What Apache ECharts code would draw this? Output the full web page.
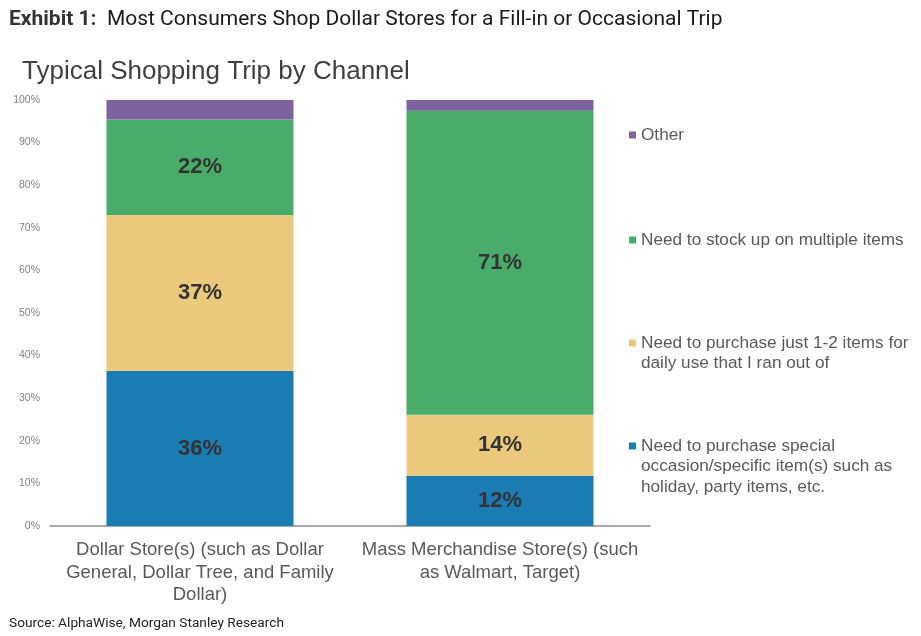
<!DOCTYPE html>
<html>
<head>
<meta charset="utf-8">
<script src="https://cdn.jsdelivr.net/npm/echarts@6/dist/echarts.min.js"></script>
<style>
html,body{margin:0;padding:0;background:#fff;}
#chart{width:921px;height:636px;}
</style>
</head>
<body>
<div id="chart"></div>
<script>
const categories = [
  'Dollar Store(s) (such as Dollar\nGeneral, Dollar Tree, and Family\nDollar)',
  'Mass Merchandise Store(s) (such\nas Walmart, Target)'
];
const seriesNames = [
  'Need to purchase special\noccasion/specific item(s) such as\nholiday, party items, etc.',
  'Need to purchase just 1-2 items for\ndaily use that I ran out of',
  'Need to stock up on multiple items',
  'Other'
];
const specialItems = [36.4, 11.8];
const fewItems = [36.6, 14.3];
const stockUp = [22.4, 71.4];
const other = [4.6, 2.5];
const yTicks = [0, 10, 20, 30, 40, 50, 60, 70, 80, 90, 100];

const colors = ['#1b7bb3', '#ebc97c', '#4aac6a', '#7d62a0'];
const values = [specialItems, fewItems, stockUp, other];

const chart = echarts.init(document.getElementById('chart'));

const series = seriesNames.map((name, i) => ({
  name: name,
  type: 'bar',
  stack: 'total',
  barWidth: 187,
  data: values[i],
  itemStyle: { color: colors[i] },
  label: {
    show: i < 3,
    position: 'inside',
    formatter: p => Math.round(p.value) + '%',
    fontFamily: 'Liberation Sans',
    fontWeight: 'bold',
    fontSize: 22,
    color: '#333333'
  }
}));

// first-line centre of each legend entry (top to bottom)
const legendLineCenters = [134, 239, 342, 445];
const legendOrder = [3, 2, 1, 0];
const lh = 20.5;
const sq = 7;
function iconFor(n) {
  const H = n * lh;
  const a = (lh - sq) / 2;
  return 'path://M0,0h0.01v0.01h-0.01z M0,' + a + 'h' + sq + 'v' + sq + 'h-' + sq + 'z M' + (sq - 0.01) + ',' + (H - 0.01) + 'h0.01v0.01h-0.01z';
}
const legends = legendOrder.map((si, k) => {
  const n = seriesNames[si].split('\n').length;
  return {
    left: 629,
    top: legendLineCenters[k] - lh / 2 + 1,
    orient: 'vertical',
    itemWidth: sq,
    itemHeight: n * lh,
    itemGap: 0,
    padding: 0,
    selectedMode: false,
    icon: iconFor(n),
    data: [seriesNames[si]],
    textStyle: {
      fontFamily: 'Liberation Sans',
      fontSize: 17.2,
      color: '#595959',
      lineHeight: lh
    }
  };
});

chart.setOption({
  animation: false,
  backgroundColor: '#ffffff',
  title: [
    {
      text: '{b|Exhibit 1:}  Most Consumers Shop Dollar Stores for a Fill-in or Occasional Trip',
      left: 9, top: 9, padding: 0,
      textStyle: {
        fontFamily: 'Roboto', fontSize: 21, fontWeight: 'normal', color: '#1a1a1a',
        rich: { b: { fontFamily: 'Roboto', fontSize: 21, fontWeight: 'bold', color: '#333333' } }
      }
    },
    {
      text: 'Typical Shopping Trip by Channel',
      left: 22, top: 59, padding: 0,
      textStyle: { fontFamily: 'Liberation Sans', fontSize: 26, fontWeight: 'normal', color: '#404040' }
    },
    {
      text: 'Source: AlphaWise, Morgan Stanley Research',
      left: 9, top: 617, padding: 0,
      textStyle: { fontFamily: 'Roboto', fontSize: 13.7, fontWeight: 'normal', color: '#222222' }
    }
  ],
  legend: legends,
  grid: { left: 50, right: 271, top: 100, bottom: 110, containLabel: false },
  xAxis: {
    type: 'category',
    data: categories,
    axisLine: { lineStyle: { color: '#8c8c8c', width: 1.5 } },
    axisTick: { show: false },
    axisLabel: {
      fontFamily: 'Liberation Sans', fontSize: 18.5, color: '#595959',
      lineHeight: 22.5, margin: 13, interval: 0, align: 'center'
    }
  },
  yAxis: {
    type: 'value',
    min: 0, max: 100, interval: 10,
    splitLine: { show: false },
    axisLine: { show: false },
    axisTick: { show: false },
    axisLabel: {
      formatter: v => yTicks.includes(v) ? v + '%' : '',
      fontFamily: 'Liberation Sans', fontSize: 10.5, color: '#7f7f7f', margin: 10
    }
  },
  series: series
});
</script>
</body>
</html>
